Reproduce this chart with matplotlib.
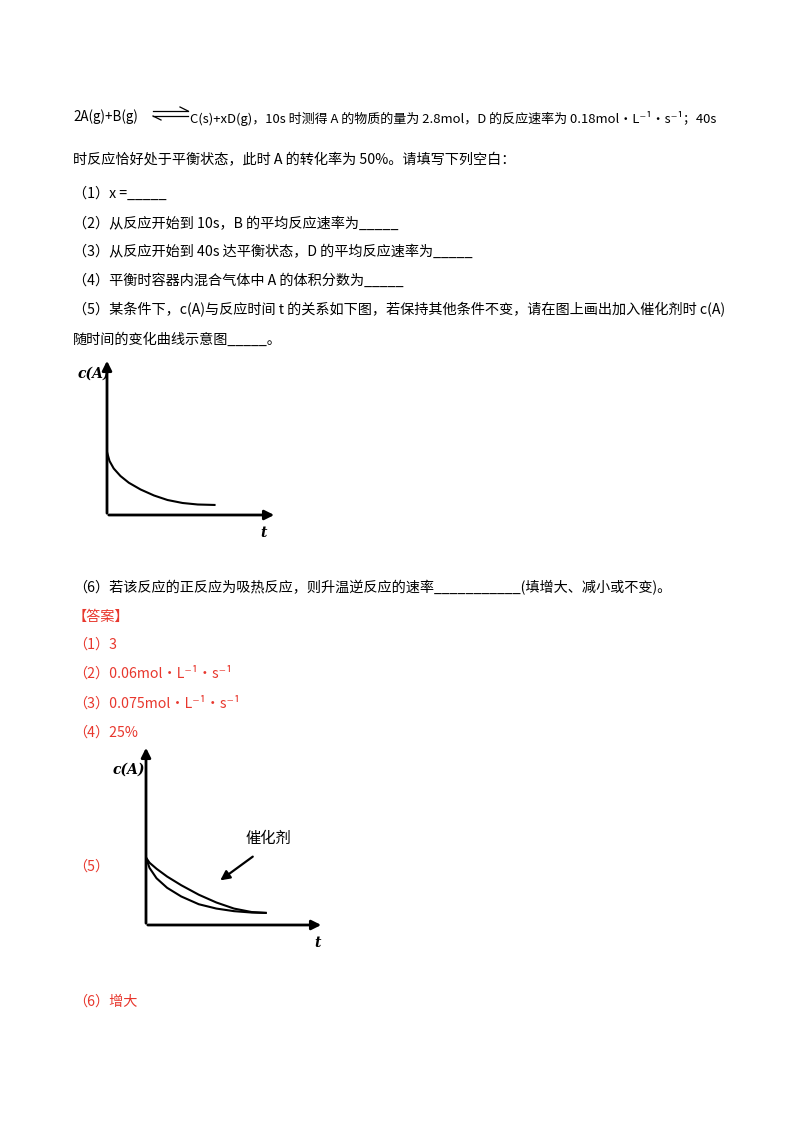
import matplotlib
matplotlib.use("Agg")
import matplotlib.pyplot as plt

plt.rcParams["font.family"] = ["Noto Sans CJK SC", "DejaVu Sans"]

RED = "#e8372d"

# question lines: (y pixel, text)
question_lines = [
    (160, "时反应恰好处于平衡状态，此时 A 的转化率为 50%。请填写下列空白："),
    (194, "（1）x =_____"),
    (224, "（2）从反应开始到 10s，B 的平均反应速率为_____"),
    (252, "（3）从反应开始到 40s 达平衡状态，D 的平均反应速率为_____"),
    (281, "（4）平衡时容器内混合气体中 A 的体积分数为_____"),
    (310, "（5）某条件下，c(A)与反应时间 t 的关系如下图，若保持其他条件不变，请在图上画出加入催化剂时 c(A)"),
    (340, "随时间的变化曲线示意图_____。"),
    (588, "（6）若该反应的正反应为吸热反应，则升温逆反应的速率___________(填增大、减小或不变)。"),
]
answer_lines = [
    (617, "【答案】"),
    (645, "（1）3"),
    (673, "（2）0.06mol·L⁻¹·s⁻¹"),
    (703, "（3）0.075mol·L⁻¹·s⁻¹"),
    (733, "（4）25%"),
    (867, "（5）"),
    (1002, "（6）增大"),
]

# c(A) curves
t1 = [0, 0.15, 0.4, 0.8, 1.3, 2.0, 2.8, 3.6, 4.5, 5.4, 6.4]
c1 = [4.2, 3.6, 3.1, 2.6, 2.15, 1.7, 1.3, 1.0, 0.8, 0.7, 0.67]
t2 = [0, 0.2, 0.6, 1.2, 2.0, 3.0, 4.0, 5.0, 6.0, 6.8]
c2_plain = [3.9, 3.6, 3.25, 2.8, 2.3, 1.75, 1.3, 0.95, 0.75, 0.7]
c2_cat = [3.9, 3.3, 2.7, 2.15, 1.65, 1.2, 0.95, 0.8, 0.72, 0.7]

W, H = 800, 1132
fig = plt.figure(figsize=(W / 100, H / 100), dpi=100)
fig.patch.set_facecolor("white")


def px(x, y):
    return x / W, 1 - y / H


def put(x, y, s, color="black", size=10.2, **kw):
    fig.text(*px(x, y), s, color=color, fontsize=size, va="center", ha="left", **kw)


# first line with equilibrium arrow
put(73, 117, "2A(g)+B(g)", size=9.6)
ov = fig.add_axes([0, 0, 1, 1])
ov.set_xlim(0, W)
ov.set_ylim(H, 0)
ov.axis("off")
ov.plot([153, 188], [111, 111], color="black", lw=0.9)
ov.plot([180, 188], [107, 111], color="black", lw=0.9)
ov.plot([153, 188], [116, 116], color="black", lw=0.9)
ov.plot([153, 161], [116, 120], color="black", lw=0.9)
put(190, 119, "C(s)+xD(g)，10s 时测得 A 的物质的量为 2.8mol，D 的反应速率为 0.18mol·L⁻¹·s⁻¹；40s",
    size=9.4)

for y, s in question_lines:
    put(73, y, s)
for y, s in answer_lines:
    put(73, y, s, color=RED)


def sketch(x0, y0, x1, y1, curves, xmax_px, ytop_px):
    ax = fig.add_axes([x0 / W, 1 - y1 / H, (x1 - x0) / W, (y1 - y0) / H])
    ax.set_xlim(0, 10)
    ax.set_ylim(0, 10)
    ax.axis("off")
    for t, c in curves:
        ax.plot(t, c, color="black", lw=1.5)
    ov.annotate("", xy=(xmax_px, y1), xytext=(x0 - 1, y1),
                arrowprops=dict(arrowstyle="-|>", color="black", lw=2, mutation_scale=14))
    ov.annotate("", xy=(x0, ytop_px), xytext=(x0, y1 + 1),
                arrowprops=dict(arrowstyle="-|>", color="black", lw=2, mutation_scale=14))
    return ax


sketch(107, 365, 275, 515, [(t1, c1)], 277, 358)
put(78, 374, "c(A)", size=10, fontweight="bold", fontstyle="italic", family="DejaVu Serif")
put(260, 533, "t", size=10, fontweight="bold", fontstyle="italic", family="DejaVu Serif")

sketch(146, 752, 322, 925, [(t2, c2_plain), (t2, c2_cat)], 324, 745)
put(113, 770, "c(A)", size=10, fontweight="bold", fontstyle="italic", family="DejaVu Serif")
put(314, 943, "t", size=10, fontweight="bold", fontstyle="italic", family="DejaVu Serif")
put(246, 838, "催化剂", size=11)
ov.annotate("", xy=(218, 882), xytext=(255, 855),
            arrowprops=dict(arrowstyle="-|>", color="black", lw=1.6, mutation_scale=14))

fig.savefig("out.png", dpi=100)
